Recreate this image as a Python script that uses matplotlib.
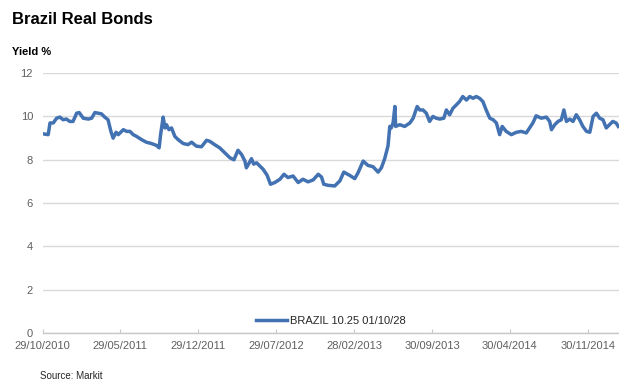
import matplotlib
matplotlib.use("Agg")
import matplotlib.pyplot as plt
import matplotlib.dates as mdates
import pandas as pd

plt.rcParams['font.family'] = ['Liberation Sans', 'DejaVu Sans']

title = "Brazil Real Bonds"
y_label = "Yield %"
source = "Source: Markit"
series_name = "BRAZIL 10.25 01/10/28"

dates = [
    "2010-10-29", "2010-11-13", "2010-11-18", "2010-11-27", "2010-12-06", "2010-12-15",
    "2010-12-24", "2011-01-02", "2011-01-11", "2011-01-20", "2011-01-30", "2011-02-06",
    "2011-02-17", "2011-03-03", "2011-03-12", "2011-03-21", "2011-03-30", "2011-04-08",
    "2011-04-17", "2011-04-26", "2011-05-04", "2011-05-10", "2011-05-18", "2011-05-24",
    "2011-06-07", "2011-06-16", "2011-06-25", "2011-07-04", "2011-07-13", "2011-07-27",
    "2011-08-09", "2011-08-23", "2011-09-06", "2011-09-13", "2011-09-17", "2011-09-24",
    "2011-09-29", "2011-10-03", "2011-10-10", "2011-10-17", "2011-10-26", "2011-11-04",
    "2011-11-18", "2011-12-01", "2011-12-11", "2011-12-24", "2012-01-07", "2012-01-21",
    "2012-01-30", "2012-02-12", "2012-02-26", "2012-03-11", "2012-03-25", "2012-04-05",
    "2012-04-16", "2012-04-26", "2012-05-05", "2012-05-09", "2012-05-17", "2012-05-23",
    "2012-05-29", "2012-06-06", "2012-06-15", "2012-06-24", "2012-07-05", "2012-07-14",
    "2012-07-26", "2012-08-09", "2012-08-20", "2012-08-31", "2012-09-14", "2012-09-28",
    "2012-10-11", "2012-10-25", "2012-11-08", "2012-11-22", "2012-12-01", "2012-12-07",
    "2012-12-19", "2013-01-06", "2013-01-20", "2013-01-31", "2013-02-16", "2013-03-02",
    "2013-03-11", "2013-03-25", "2013-04-07", "2013-04-21", "2013-05-05", "2013-05-14",
    "2013-05-23", "2013-06-01", "2013-06-06", "2013-06-10", "2013-06-15", "2013-06-20",
    "2013-06-22", "2013-07-03", "2013-07-17", "2013-07-31", "2013-08-09", "2013-08-20",
    "2013-08-27", "2013-09-05", "2013-09-14", "2013-09-23", "2013-10-02", "2013-10-11",
    "2013-10-21", "2013-11-01", "2013-11-08", "2013-11-17", "2013-11-26", "2013-12-05",
    "2013-12-14", "2013-12-23", "2014-01-02", "2014-01-11", "2014-01-20", "2014-01-29",
    "2014-02-07", "2014-02-16", "2014-02-25", "2014-03-07", "2014-03-16", "2014-03-25",
    "2014-04-03", "2014-04-10", "2014-04-21", "2014-05-05", "2014-05-19", "2014-06-01",
    "2014-06-15", "2014-06-24", "2014-07-03", "2014-07-12", "2014-07-26", "2014-08-09",
    "2014-08-18", "2014-08-23", "2014-09-01", "2014-09-10", "2014-09-19", "2014-09-26",
    "2014-10-03", "2014-10-12", "2014-10-21", "2014-10-30", "2014-11-08", "2014-11-17",
    "2014-11-27", "2014-12-06", "2014-12-15", "2014-12-24", "2015-01-02", "2015-01-11",
    "2015-01-20", "2015-01-29", "2015-02-07", "2015-02-16", "2015-02-22",
]

yields = [
    9.20, 9.16, 9.70, 9.70, 9.92, 9.97,
    9.85, 9.88, 9.77, 9.77, 10.15, 10.18,
    9.92, 9.88, 9.92, 10.18, 10.15, 10.12,
    9.97, 9.85, 9.30, 9.00, 9.27, 9.16,
    9.39, 9.31, 9.31, 9.16, 9.08, 8.93,
    8.81, 8.75, 8.66, 8.55, 9.16, 9.97,
    9.47, 9.62, 9.39, 9.47, 9.08, 8.93,
    8.75, 8.70, 8.81, 8.63, 8.60, 8.90,
    8.85, 8.70, 8.55, 8.32, 8.09, 8.00,
    8.44, 8.24, 7.94, 7.63, 7.86, 8.05,
    7.80, 7.86, 7.71, 7.56, 7.28, 6.87,
    6.95, 7.10, 7.33, 7.18, 7.25, 6.95,
    7.10, 6.98, 7.07, 7.33, 7.20, 6.87,
    6.82, 6.79, 7.02, 7.43, 7.28, 7.13,
    7.40, 7.94, 7.74, 7.68, 7.43, 7.63,
    8.05, 8.63, 9.54, 9.47, 9.70, 10.46,
    9.54, 9.62, 9.54, 9.70, 9.92, 10.46,
    10.30, 10.30, 10.15, 9.77, 10.00, 9.92,
    9.88, 9.92, 10.30, 10.08, 10.38, 10.53,
    10.69, 10.92, 10.76, 10.92, 10.84, 10.92,
    10.84, 10.69, 10.30, 9.92, 9.85, 9.70,
    9.16, 9.54, 9.31, 9.16, 9.27, 9.31,
    9.24, 9.47, 9.70, 10.03, 9.92, 9.97,
    9.77, 9.39, 9.62, 9.77, 9.85, 10.30,
    9.77, 9.88, 9.77, 10.08, 9.85, 9.54,
    9.31, 9.27, 10.00, 10.15, 9.92, 9.85,
    9.47, 9.62, 9.77, 9.70, 9.54,
]

tick_dates = ["2010-10-29", "2011-05-29", "2011-12-29", "2012-07-29",
              "2013-02-28", "2013-09-30", "2014-04-30", "2014-11-30"]
y_ticks = [0, 2, 4, 6, 8, 10, 12]
x_start = "2010-10-29"
x_end = "2015-02-24"

dt = pd.to_datetime(dates)
tk = pd.to_datetime(tick_dates)

fig = plt.figure(figsize=(6.19, 3.81), dpi=100)
ax = fig.add_axes([0.069, 0.126, 0.931, 0.682])

line_color = "#4372b2"
ax.plot(dt, yields, color=line_color, lw=2.5, label=series_name, solid_joinstyle='round')

ax.set_xlim(pd.Timestamp(x_start), pd.Timestamp(x_end))
ax.set_ylim(0, 12)
ax.set_yticks(y_ticks)
ax.set_xticks(tk)
ax.set_xticklabels([d.strftime("%d/%m/%Y") for d in tk])

ax.grid(axis='y', color='#d9d9d9', lw=1.0)
ax.set_axisbelow(True)
for s in ['top', 'right', 'left']:
    ax.spines[s].set_visible(False)
ax.spines['bottom'].set_color('#c8c8c8')
ax.spines['bottom'].set_linewidth(1.0)

ax.tick_params(axis='y', length=0, pad=7, labelsize=8, labelcolor='#5f5f5f')
ax.tick_params(axis='x', direction='in', length=3, color='#c8c8c8', pad=6,
               labelsize=8, labelcolor='#5f5f5f')

leg = ax.legend(loc='lower center', bbox_to_anchor=(0.5, 0.0), frameon=False,
                fontsize=8, handlelength=2.8, handletextpad=0.3, borderaxespad=0.2)
for t in leg.get_texts():
    t.set_color('#262626')

fig.text(12 / 619, 1 - 20 / 381, title, fontsize=12, fontweight='bold', va='center', ha='left')
fig.text(12 / 619, 1 - 52 / 381, y_label, fontsize=8, fontweight='bold', va='center', ha='left')
fig.text(40 / 619, 1 - 376 / 381, source, fontsize=7, va='center', ha='left', color='#262626')

fig.savefig("out.png", dpi=100)
